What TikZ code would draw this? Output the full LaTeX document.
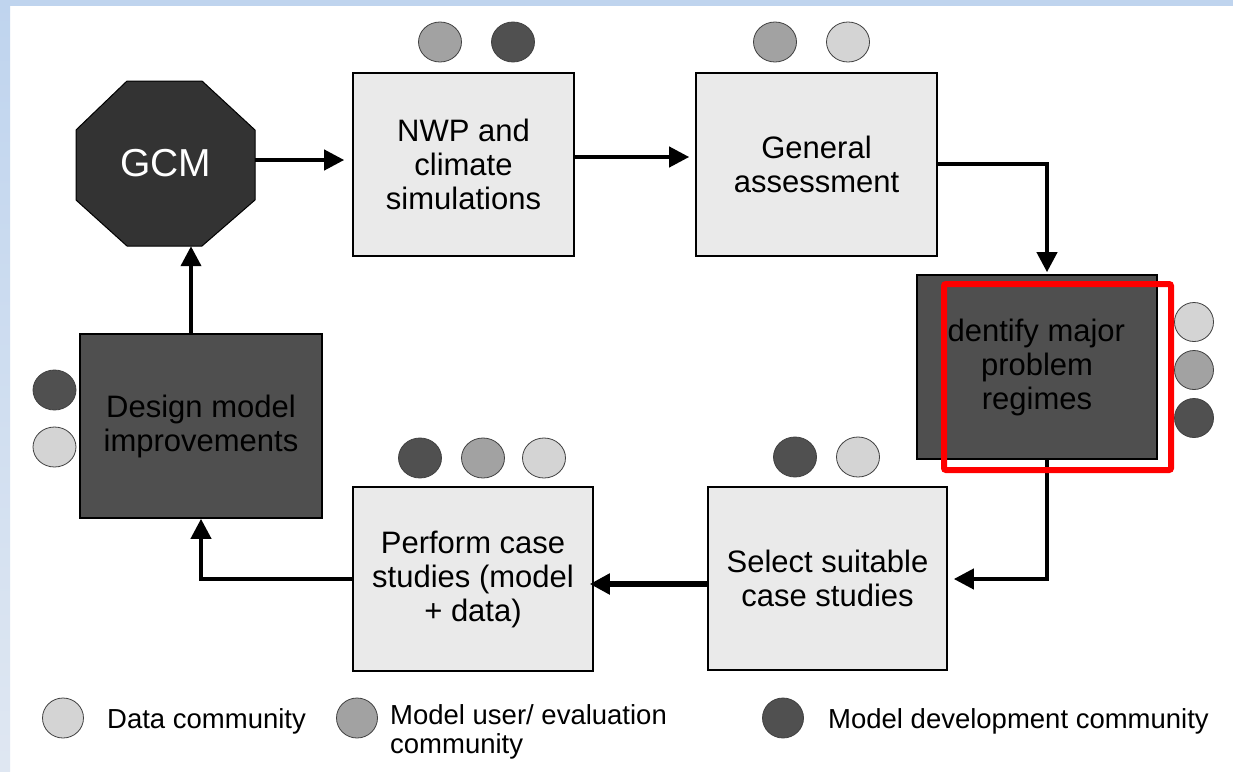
\documentclass[tikz,border=0pt]{standalone}
\usepackage{fontspec}
\setmainfont{Liberation Sans}
\usetikzlibrary{arrows.meta,shapes.geometric}
\definecolor{bgblue}{HTML}{BFD4EE}
\definecolor{bgblue2}{HTML}{DFE7F2}
\definecolor{lightbox}{HTML}{EAEAEA}
\definecolor{darkbox}{HTML}{4F4F4F}
\definecolor{gcmfill}{HTML}{333333}
\definecolor{clight}{HTML}{D4D4D4}
\definecolor{cmed}{HTML}{A2A2A2}
\definecolor{cdark}{HTML}{505050}
\definecolor{hlred}{HTML}{FF0000}
\begin{document}
\begin{tikzpicture}[x=1pt,y=-1pt,
  procbox/.style={rectangle, draw=black, line width=1.6pt, inner sep=0pt, align=center,
    font=\fontsize{31}{34}\selectfont, text=black},
  lightproc/.style={procbox, fill=lightbox},
  darkproc/.style={procbox, fill=darkbox},
  dot/.style={ellipse, draw=black!75, line width=0.8pt, inner sep=0pt,
    minimum width=43pt, minimum height=40pt},
  legdot/.style={dot, minimum width=41pt, minimum height=40pt},
  legtext/.style={inner sep=0pt, font=\fontsize{27.5}{29}\selectfont, text=black, align=left},
  arr/.style={draw=black, line width=4pt, -{Triangle[length=20pt,width=20pt]}},
  thickarr/.style={arr, line width=5.5pt},
]
\useasboundingbox (0,0) rectangle (1233,771);
% background frame
\fill[white] (0,0) rectangle (1233,771);
\fill[bgblue] (0,0) rectangle (1233,6);
\shade[top color=bgblue, bottom color=bgblue2] (0,0) rectangle (10,771);

% GCM octagon
\fill[gcmfill, draw=black, line width=1pt]
  (127,81) -- (202,81) -- (255,130) -- (255,200) -- (202,246) -- (127,246) -- (76,200) -- (76,130) -- cycle;
\node[inner sep=0pt, minimum width=179pt, minimum height=165pt, text=white,
  font=\fontsize{39}{42}\selectfont] (gcm) at (165.5,163.5) {GCM};

% process boxes
\node[lightproc, minimum width=221pt, minimum height=183pt] (nwp) at (463.5,164.5) {NWP and\\climate\\simulations};
\node[lightproc, minimum width=241pt, minimum height=183pt] (gen) at (816.5,164.5) {General\\assessment};
\node[darkproc, minimum width=240pt, minimum height=184pt] (ident) at (1037,367) {\hspace*{-10pt}Identify major\\problem\\regimes};
\node[lightproc, minimum width=239pt, minimum height=183pt] (select) at (827.5,578.5) {Select suitable\\case studies};
\node[lightproc, minimum width=240pt, minimum height=184pt] (perform) at (473,579) {Perform case\\studies (model\\+ data)};
\node[darkproc, minimum width=242pt, minimum height=184pt] (design) at (201,426) {Design model\\improvements};

% community dots
\node[dot, fill=cmed]   (nwpa) at (440,42) {};
\node[dot, fill=cdark]  (nwpb) at (513,42) {};
\node[dot, fill=cmed]   (gena) at (775,42) {};
\node[dot, fill=clight] (genb) at (848,42) {};
\node[dot, fill=clight, minimum width=39pt, minimum height=39pt] (ida) at (1194,322) {};
\node[dot, fill=cmed,   minimum width=39pt, minimum height=39pt] (idb) at (1194,370) {};
\node[dot, fill=cdark,  minimum width=39pt, minimum height=39pt] (idc) at (1194,418) {};
\node[dot, fill=cdark]  (sela) at (795,457) {};
\node[dot, fill=clight] (selb) at (858,457) {};
\node[dot, fill=cdark]  (pera) at (420,458) {};
\node[dot, fill=cmed]   (perb) at (483,458) {};
\node[dot, fill=clight] (perc) at (544,458) {};
\node[dot, fill=cdark]  (desa) at (54.5,390) {};
\node[dot, fill=clight] (desb) at (54.5,447) {};

% connectors
\draw[arr, shorten >=8pt] (gcm.east |- 0,160) -- (nwp.west |- 0,160);
\draw[arr, shorten >=6pt] (nwp.east |- 0,157) -- (gen.west |- 0,157);
\draw[arr, shorten >=2pt] (gen.east |- 0,164) -| ([xshift=10pt]ident.north);
\draw[arr, shorten >=6pt] ([xshift=10pt]ident.south) |- (select.east |- 0,579);
\draw[thickarr, shorten >=-4pt] (select.west |- 0,584) -- (perform.east |- 0,584);
\draw[arr] (perform.west |- 0,579) -| (design.south);
\draw[arr] (design.north -| 191,0) -- (gcm.south -| 191,0);

% highlight
\node[draw=hlred, line width=6pt, rounded corners=2pt, inner sep=0pt,
  minimum width=227pt, minimum height=186pt] (hl) at (1057.5,377) {};

% legend
\node[legdot, fill=clight] (lega) at (63,718) {};
\node[legtext, anchor=base west] (legat) at (107,728) {Data community};
\node[legdot, fill=cmed] (legb) at (357,718) {};
\node[legtext, anchor=north west] (legbt) at (390,704) {Model user/ evaluation\\community};
\node[legdot, fill=cdark] (legc) at (783,718) {};
\node[legtext, anchor=base west] (legct) at (828,728) {Model development community};
\end{tikzpicture}
\end{document}
